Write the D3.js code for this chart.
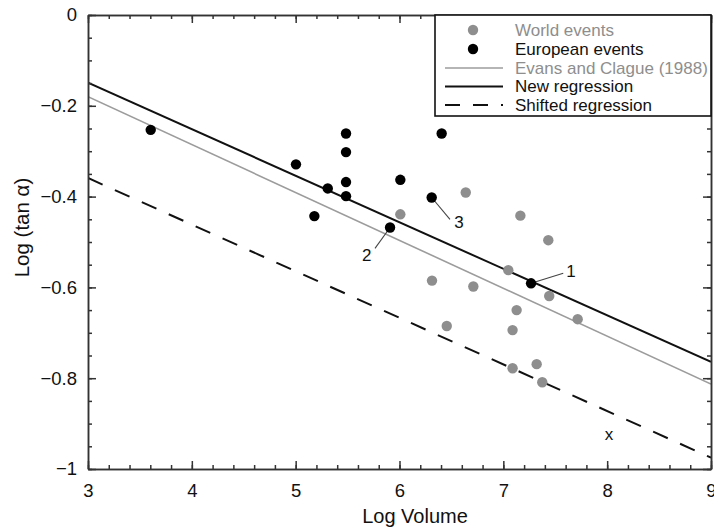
<!DOCTYPE html>
<html>
<head>
<meta charset="utf-8">
<script src="https://cdn.jsdelivr.net/npm/d3@7"></script>
<style>
  body { margin: 0; background: #fff; }
  svg { display: block; font-family: "Liberation Sans", Arial, sans-serif; }
</style>
</head>
<body>
<div class="chart"></div>
<script>
// European events (black dots)
var euroX = [3.604, 5.003, 5.309, 5.180, 5.485, 5.485, 5.485, 5.485, 6.406, 6.008, 6.310, 5.909, 7.267];
var euroY = [-0.253, -0.329, -0.382, -0.443, -0.261, -0.302, -0.368, -0.399, -0.261, -0.363, -0.402, -0.468, -0.591];

// World events (grey dots)
var worldX = [6.008, 6.638, 7.164, 7.433, 7.048, 6.313, 6.711, 7.442, 7.128, 7.716, 6.455, 7.089, 7.321, 7.089, 7.375];
var worldY = [-0.439, -0.391, -0.442, -0.496, -0.562, -0.585, -0.598, -0.619, -0.650, -0.670, -0.685, -0.694, -0.769, -0.778, -0.809];

// regression lines, [value at x=3, value at x=9]
var lineX = [3, 9];
var evansY = [-0.180, -0.813];
var newRegY = [-0.149, -0.764];
var shiftedY = [-0.359, -0.975];

// numbered labels: text position, leader end, and the point it points at
var noteText = ["1", "2", "3", "x"];
var noteX = [7.652, 5.684, 6.573, 8.018];
var noteY = [-0.564, -0.529, -0.456, -0.923];
var leaderX = [7.577, 5.764, 6.486, null];
var leaderY = [-0.569, -0.514, -0.450, null];
var leaderFromX = [7.267, 5.909, 6.310, null];
var leaderFromY = [-0.591, -0.468, -0.402, null];

var xTicks = [3, 4, 5, 6, 7, 8, 9];
var yTicks = [0, -0.2, -0.4, -0.6, -0.8, -1];
var legendLabels = ["World events", "European events", "Evans and Clague (1988)", "New regression", "Shifted regression"];

var grey = "#8e8e8e";
var greyLine = "#9c9c9c";
var axisColor = "#333";

var W = 714, H = 530;
var plotL = 88, plotR = 711, plotT = 15, plotB = 469;

var svg = d3.select(".chart").append("svg")
    .attr("width", W)
    .attr("height", H);

var x = d3.scaleLinear().domain([3, 9]).range([plotL, plotR]);
var y = d3.scaleLinear().domain([-1, 0]).range([plotB, plotT]);

var minorX = d3.range(30, 91, 2).map(function(d) { return d / 10; });
var minorY = d3.range(0, 21).map(function(d) { return -d * 0.05; });

// clip for the lines
svg.append("clipPath").attr("id", "plot")
  .append("rect")
    .attr("x", plotL).attr("y", plotT)
    .attr("width", plotR - plotL).attr("height", plotB - plotT);

// regression lines
var line = d3.line()
    .x(function(d) { return x(d[0]); })
    .y(function(d) { return y(d[1]); });

var lines = [
    {vals: evansY, color: greyLine, w: 1.6, dash: null},
    {vals: newRegY, color: "#111", w: 2, dash: null},
    {vals: shiftedY, color: "#111", w: 2, dash: "16,13.5"}
];
lines.forEach(function(l) {
    svg.append("path")
        .datum(lineX.map(function(v, i) { return [v, l.vals[i]]; }))
        .attr("clip-path", "url(#plot)")
        .attr("d", line)
        .attr("fill", "none")
        .attr("stroke", l.color)
        .attr("stroke-width", l.w)
        .attr("stroke-dasharray", l.dash);
});

// leader lines for numbered points
noteText.forEach(function(t, i) {
    if (leaderX[i] == null) return;
    svg.append("line")
        .attr("x1", x(leaderFromX[i])).attr("y1", y(leaderFromY[i]))
        .attr("x2", x(leaderX[i])).attr("y2", y(leaderY[i]))
        .attr("stroke", "#444")
        .attr("stroke-width", 1.1);
});

// points
svg.selectAll(".world")
    .data(worldX)
    .enter().append("circle")
      .attr("class", "world")
      .attr("cx", function(d) { return x(d); })
      .attr("cy", function(d, i) { return y(worldY[i]); })
      .attr("r", 5.2)
      .attr("fill", grey);

svg.selectAll(".euro")
    .data(euroX)
    .enter().append("circle")
      .attr("class", "euro")
      .attr("cx", function(d) { return x(d); })
      .attr("cy", function(d, i) { return y(euroY[i]); })
      .attr("r", 5.2)
      .attr("fill", "#000");

svg.selectAll(".note")
    .data(noteText)
    .enter().append("text")
      .attr("class", "note")
      .attr("x", function(d, i) { return x(noteX[i]); })
      .attr("y", function(d, i) { return y(noteY[i]); })
      .attr("dy", "0.35em")
      .attr("text-anchor", "middle")
      .style("font-size", "17px")
      .style("fill", "#111")
      .text(function(d) { return d; });

// axes: major + minor ticks pointing inward on all four sides
var fmt = d3.format("~g");
function styleAxis(g) {
    g.selectAll("path, line").attr("stroke", axisColor).attr("stroke-width", 1.5);
    g.selectAll("text").style("font-size", "18.5px").style("fill", "#111");
}

svg.append("g")
    .attr("transform", "translate(0," + plotB + ")")
    .call(d3.axisBottom(x).tickValues(minorX).tickSize(-4).tickSizeOuter(0).tickFormat(""))
    .call(styleAxis);
svg.append("g")
    .attr("transform", "translate(0," + plotB + ")")
    .call(d3.axisBottom(x).tickValues(xTicks).tickSize(-8).tickSizeOuter(0).tickPadding(15).tickFormat(fmt))
    .call(styleAxis);

svg.append("g")
    .attr("transform", "translate(0," + plotT + ")")
    .call(d3.axisTop(x).tickValues(minorX).tickSize(-4).tickSizeOuter(0).tickFormat(""))
    .call(styleAxis);
svg.append("g")
    .attr("transform", "translate(0," + plotT + ")")
    .call(d3.axisTop(x).tickValues(xTicks).tickSize(-8).tickSizeOuter(0).tickFormat(""))
    .call(styleAxis);

svg.append("g")
    .attr("transform", "translate(" + plotL + ",0)")
    .call(d3.axisLeft(y).tickValues(minorY).tickSize(-4).tickSizeOuter(0).tickFormat(""))
    .call(styleAxis);
svg.append("g")
    .attr("transform", "translate(" + plotL + ",0)")
    .call(d3.axisLeft(y).tickValues(yTicks).tickSize(-8).tickSizeOuter(0).tickPadding(11).tickFormat(fmt))
    .call(styleAxis);

svg.append("g")
    .attr("transform", "translate(" + plotR + ",0)")
    .call(d3.axisRight(y).tickValues(minorY).tickSize(-4).tickSizeOuter(0).tickFormat(""))
    .call(styleAxis);
svg.append("g")
    .attr("transform", "translate(" + plotR + ",0)")
    .call(d3.axisRight(y).tickValues(yTicks).tickSize(-8).tickSizeOuter(0).tickFormat(""))
    .call(styleAxis);

// axis titles
svg.append("text")
    .attr("x", 415)
    .attr("y", 523)
    .attr("text-anchor", "middle")
    .style("font-size", "20px")
    .style("fill", "#111")
    .text("Log Volume");

svg.append("text")
    .attr("transform", "translate(29,227.5) rotate(-90)")
    .attr("text-anchor", "middle")
    .style("font-size", "20.5px")
    .style("fill", "#111")
    .text("Log (tan α)");

// legend box covering the top-right corner
var lg = svg.append("g");
lg.append("rect")
    .attr("x", 435).attr("y", plotT)
    .attr("width", plotR - 435).attr("height", 116 - plotT)
    .attr("fill", "#fff")
    .attr("stroke", "#111")
    .attr("stroke-width", 1.6);

var rowY = [30, 49, 68, 86.5, 105];
var legendColors = [grey, "#111", grey, "#111", "#111"];

lg.append("circle").attr("cx", 473).attr("cy", rowY[0]).attr("r", 5.2).attr("fill", grey);
lg.append("circle").attr("cx", 473).attr("cy", rowY[1]).attr("r", 5.2).attr("fill", "#000");
lg.append("line").attr("x1", 445).attr("x2", 503).attr("y1", rowY[2]).attr("y2", rowY[2])
    .attr("stroke", greyLine).attr("stroke-width", 1.6);
lg.append("line").attr("x1", 445).attr("x2", 503).attr("y1", rowY[3]).attr("y2", rowY[3])
    .attr("stroke", "#111").attr("stroke-width", 2);
lg.append("line").attr("x1", 445).attr("x2", 503).attr("y1", rowY[4]).attr("y2", rowY[4])
    .attr("stroke", "#111").attr("stroke-width", 2).attr("stroke-dasharray", "15,13");

lg.selectAll(".lt")
    .data(legendLabels)
    .enter().append("text")
      .attr("class", "lt")
      .attr("x", 515)
      .attr("y", function(d, i) { return rowY[i]; })
      .attr("dy", "0.35em")
      .style("font-size", "17px")
      .style("fill", function(d, i) { return legendColors[i]; })
      .text(function(d) { return d; });
</script>
</body>
</html>
